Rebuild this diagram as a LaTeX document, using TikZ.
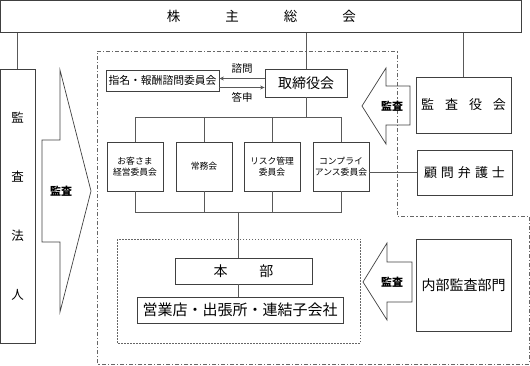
\documentclass[tikz,border=0pt]{standalone}
\usepackage{fontspec}
\setmainfont{Noto Sans CJK JP}
\usetikzlibrary{arrows.meta, positioning}

\begin{document}
\begin{tikzpicture}[x=1pt, y=-1pt,
  box/.style={rectangle, draw=black!75, line width=0.8pt, inner sep=0.5pt, align=center},
  cmte/.style={box, minimum width=56pt, minimum height=49pt, font=\fontsize{8.8pt}{11.5pt}\selectfont},
  wire/.style={draw=black!65, line width=0.8pt},
  arrow/.style={wire, -{Stealth[length=4.5pt, width=4pt]}},
  kansa/.style={draw=black!75, line width=0.7pt},
  kansalbl/.style={font=\bfseries\fontsize{11pt}{13pt}\selectfont, inner sep=0pt},
  outer/.style={draw=black!60, line width=0.8pt, dash pattern=on 4pt off 2pt on 1.2pt off 2pt},
  inner/.style={draw=black!60, line width=0.8pt, dash pattern=on 1.5pt off 1.5pt}
]
\useasboundingbox (0,0) rectangle (530,366);

% audit scopes
\draw[outer] (97,51) -- (397,51) -- (397,216) -- (529,216) -- (529,364) -- (97,364) -- cycle;
\draw[inner] (117,239) rectangle (360,343);

% boxes
\node[box, minimum width=521pt, minimum height=31.5pt, font=\fontsize{13.5pt}{15pt}\selectfont] (agm) at (261.25,16.5)
  {株\hspace{45pt}主\hspace{45pt}総\hspace{45pt}会};
\node[box, minimum width=34.5pt, minimum height=274pt, font=\fontsize{12.5pt}{59pt}\selectfont] (firm) at (17.75,206)
  {監\\査\\法\\人};
\node[box, minimum width=113pt, minimum height=21pt, font=\fontsize{10.8pt}{12pt}\selectfont] (nomination) at (162.5,80.5)
  {指名・報酬諮問委員会};
\node[box, minimum width=82pt, minimum height=28pt, font=\fontsize{14pt}{16pt}\selectfont] (board) at (306,83)
  {取締役会};
\node[cmte] (c1) at (135,166.5) {お客さま\\経営委員会};
\node[cmte] (c2) at (204,166.5) {常務会};
\node[cmte] (c3) at (272,166.5) {リスク管理\\委員会};
\node[cmte] (c4) at (341,166.5) {コンプライ\\アンス委員会};
\node[box, minimum width=95pt, minimum height=56pt, font=\fontsize{13pt}{15pt}\selectfont] (kansayaku) at (463.5,105)
  {監\hspace{11pt}査\hspace{11pt}役\hspace{11pt}会};
\node[box, minimum width=95pt, minimum height=45pt, font=\fontsize{13pt}{15pt}\selectfont] (lawyer) at (464.5,172.5)
  {顧\hspace{4pt}問\hspace{4pt}弁\hspace{4pt}護\hspace{4pt}士};
\node[box, minimum width=137pt, minimum height=26pt, font=\fontsize{14pt}{16pt}\selectfont] (honbu) at (243.5,271)
  {本\hspace{32pt}部};
\node[box, minimum width=206pt, minimum height=26pt, font=\fontsize{15pt}{17pt}\selectfont] (branch) at (240,310)
  {営業店・出張所・連結子会社};
\node[box, minimum width=95pt, minimum height=92pt, font=\fontsize{14pt}{16pt}\selectfont] (naibu) at (463.5,285)
  {内部監査部門};

% connectors
\coordinate (busTop) at (306,117);
\coordinate (busBot) at (238,212);
\draw[wire] (firm.north) -- (firm.north |- agm.south);
\draw[wire] (board.north) -- (board.north |- agm.south);
\draw[wire] (kansayaku.north) -- (kansayaku.north |- agm.south);
\draw[arrow] ([yshift=4.5pt]board.west) -- ([yshift=4.5pt]board.west -| nomination.east)
  node[midway, above=1pt, font=\fontsize{10.5pt}{12pt}\selectfont] (ask) {諮問};
\draw[arrow] ([yshift=-4.5pt]board.west -| nomination.east) -- ([yshift=-4.5pt]board.west)
  node[midway, below=1pt, font=\fontsize{10.5pt}{12pt}\selectfont] (reply) {答申};
\draw[wire] (board.south) -- (busTop);
\draw[wire] (c1.north) -- (c1.north |- busTop) -- (c4.north |- busTop) -- (c4.north);
\draw[wire] (c1.south) -- (c1.south |- busBot) -- (c4.south |- busBot) -- (c4.south);
\foreach \c in {c2,c3} {
  \draw[wire] (\c.north) -- (\c.north |- busTop);
  \draw[wire] (\c.south) -- (\c.south |- busBot);
}
\draw[wire] (busBot) -- (busBot |- honbu.north);
\draw[wire] (busBot |- honbu.south) -- (busBot |- branch.north);
\draw[wire] (lawyer.west) -- (lawyer.west -| c4.east);

% audit arrows
\draw[kansa] (42,140) -- (60,140) -- (60,70) -- (91,191) -- (60,312) -- (60,242) -- (42,242) -- cycle;
\node[kansalbl] (kansaL) at (61,191) {監査};
\draw[kansa] (410,86) -- (386,86) -- (386,68) -- (362,106) -- (386,144) -- (386,125) -- (410,125) -- cycle;
\node[kansalbl] (kansaU) at (392,106) {監査};
\draw[kansa] (412,262) -- (387,262) -- (387,243) -- (363,282) -- (387,320) -- (387,302) -- (412,302) -- cycle;
\node[kansalbl] (kansaB) at (392,282) {監査};
\end{tikzpicture}
\end{document}
